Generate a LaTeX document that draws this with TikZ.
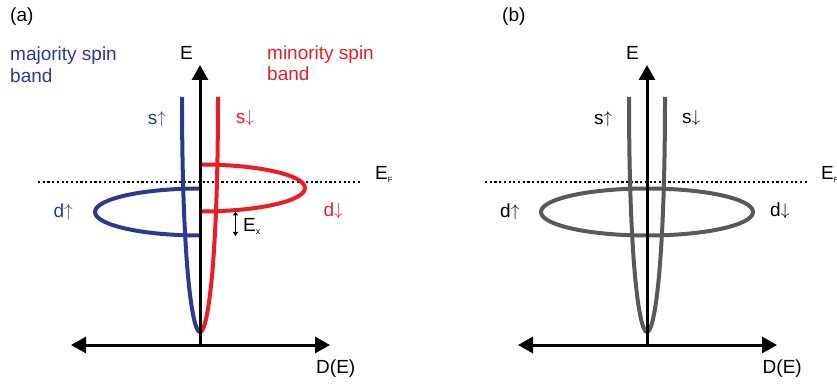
\documentclass[tikz,border=0pt]{standalone}
\usepackage{fontspec}
\setmainfont{Liberation Sans}
\usetikzlibrary{arrows.meta}
\definecolor{maj}{RGB}{43,57,144}
\definecolor{mino}{RGB}{237,28,36}
\definecolor{grayband}{RGB}{88,89,91}
\newcommand{\spinup}{\raisebox{1pt}{$\uparrow$}}
\newcommand{\spindn}{\raisebox{1pt}{$\downarrow$}}
\begin{document}
\begin{tikzpicture}[x=1pt,y=1pt,
  lbl/.style={font=\fontsize{19}{22}\selectfont, inner sep=0pt, anchor=base west},
  axisline/.style={line width=3pt},
  bigtip/.style={-{Triangle[length=15pt,width=16pt]}},
  bigtips/.style={{Triangle[length=15pt,width=16pt]}-{Triangle[length=15pt,width=16pt]}},
  bandline/.style={line width=4pt},
  fermi/.style={line width=2pt, dash pattern=on 2.2pt off 2.5pt},
  smallarrow/.style={line width=1.8pt, {Triangle[length=4pt,width=5pt]}-{Triangle[length=4pt,width=5pt]}}]
\useasboundingbox (0,0) rectangle (837,383);

% ---------- panel (a) ----------
\coordinate (aO) at (200,38);
\coordinate (aTop) at (200,318);
\coordinate (aL) at (71,38);
\coordinate (aR) at (330,38);
\coordinate (aV) at (200,51);
\coordinate (aSu) at (182,286);
\coordinate (aSd) at (218,286);
\coordinate (aDu) at (200,194.5);
\coordinate (aDd) at (200,218.5);
\coordinate (aF1) at (38,201);
\coordinate (aF2) at (360,201);
\coordinate (aX1) at (235.5,171.5);
\coordinate (aX2) at (235.5,147);

\draw[fermi] (aF1) -- (aF2);
\draw[bandline, maj] (aDu) arc[start angle=90, end angle=270, x radius=105, y radius=23.5];
\draw[bandline, mino] (aDd) arc[start angle=90, end angle=-90, x radius=105, y radius=23.5];
\draw[bandline, maj] (aSu) .. controls (182,123) and (192,51) .. (aV);
\draw[bandline, mino] (aSd) .. controls (218,123) and (208,51) .. (aV);
\draw[axisline, bigtip] (aO) -- (aTop);
\draw[axisline, bigtips] (aL) -- (aR);
\draw[smallarrow] (aX1) -- (aX2);

\node[lbl] (alab) at (10,361.3) {(a)};
\node[lbl, text=maj] (amaj1) at (10,322) {majority spin};
\node[lbl, text=maj] (amaj2) at (10,300.3) {band};
\node[lbl, text=mino] (amin1) at (267,323.7) {minority spin};
\node[lbl, text=mino] (amin2) at (267,302) {band};
\node[lbl] (aE) at (180,323) {E};
\node[lbl, text=maj] (asu) at (147.7,258.7) {s\spinup};
\node[lbl, text=mino] (asd) at (235.7,259) {s\spindn};
\node[lbl, text=maj] (adu) at (53.3,165.7) {d\spinup};
\node[lbl, text=mino] (add) at (323.3,166) {d\spindn};
\node[lbl] (aEx) at (243,151) {E\raisebox{-3pt}{\fontsize{9}{9}\selectfont x}};
\node[lbl] (aEF) at (375,203) {E\raisebox{-3pt}{\fontsize{7.5}{8}\selectfont F}};
\node[lbl] (aD) at (316,9.7) {D(E)};

% ---------- panel (b) ----------
\coordinate (bO) at (647,38);
\coordinate (bTop) at (647,318);
\coordinate (bL) at (518,38);
\coordinate (bR) at (777,38);
\coordinate (bV) at (647,51);
\coordinate (bSu) at (629,286);
\coordinate (bSd) at (665,286);
\coordinate (bC) at (647,171);
\coordinate (bF1) at (485,201);
\coordinate (bF2) at (807,201);

\draw[fermi] (bF1) -- (bF2);
\draw[bandline, grayband] (bC) ellipse[x radius=106, y radius=23.5];
\draw[bandline, grayband] (bSu) .. controls (629,123) and (639,51) .. (bV);
\draw[bandline, grayband] (bSd) .. controls (665,123) and (655,51) .. (bV);
\draw[axisline, bigtip] (bO) -- (bTop);
\draw[axisline, bigtips] (bL) -- (bR);

\node[lbl] (blab) at (502,361.3) {(b)};
\node[lbl] (bE) at (626,323) {E};
\node[lbl] (bsu) at (594,258.7) {s\spinup};
\node[lbl] (bsd) at (682,259) {s\spindn};
\node[lbl] (bdu) at (500,165.7) {d\spinup};
\node[lbl] (bdd) at (770,166) {d\spindn};
\node[lbl] (bEF) at (821,203) {E\raisebox{-3pt}{\fontsize{7.5}{8}\selectfont F}};
\node[lbl] (bD) at (762.5,9.7) {D(E)};
\end{tikzpicture}
\end{document}
